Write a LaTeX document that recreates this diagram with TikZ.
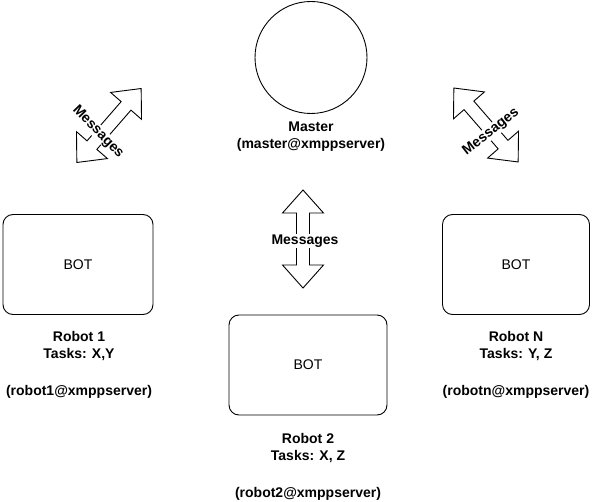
\documentclass[tikz,border=0pt]{standalone}
\usepackage{fontspec}
\setmainfont{Liberation Sans}
\begin{document}
\begin{tikzpicture}[x=1pt,y=-1pt,line width=0.9pt,
  lbl/.style={font=\fontsize{14}{17}\selectfont\bfseries, align=center, inner sep=0pt},
  botbox/.style={draw, rounded corners=10pt, font=\fontsize{14}{17}\selectfont, inner sep=0pt},
  msg/.style={font=\fontsize{14}{17}\selectfont\bfseries, fill=white, inner sep=0.5pt},
  dbl/.pic={\draw[fill=white] (-49,0) -- (-26,20.5) -- (-26,6.5) -- (26,6.5) -- (26,20.5) -- (49,0) -- (26,-20.5) -- (26,-6.5) -- (-26,-6.5) -- (-26,-20.5) -- cycle;}]
\useasboundingbox (0,0) rectangle (596,502);
% master
\node[draw, circle, minimum size=112pt, inner sep=0pt] (master) at (311,57.5) {};
\node[lbl] (mastertxt) at (311,137) {Master\\(master@xmppserver)};
% bots
\node[botbox, minimum width=150pt, minimum height=100pt] (bot1) at (78,264.5) {BOT};
\node[botbox, minimum width=158pt, minimum height=100pt] (bot2) at (308,365) {BOT};
\node[botbox, minimum width=147pt, minimum height=100pt] (botn) at (516,264.5) {BOT};
% labels
\node[lbl] (r1a) at (79,346.5) {Robot 1\\Tasks: X,Y};
\node[lbl] (r1b) at (79,392) {(robot1@xmppserver)};
\node[lbl] (r2a) at (308,448.5) {Robot 2\\Tasks: X, Z};
\node[lbl] (r2b) at (308,494) {(robot2@xmppserver)};
\node[lbl] (rna) at (516,346.5) {Robot N\\Tasks: Y, Z};
\node[lbl] (rnb) at (516,392) {(robotn@xmppserver)};
% message arrows
\pic[rotate=90] at (303,239) {dbl};
\node[msg] (m2) at (305,241) {Messages};
\pic[rotate=49] at (109,125.5) {dbl};
\node[msg, rotate=-46] (m1) at (98,132) {Messages};
\pic[rotate=-49] at (486,125) {dbl};
\node[msg, rotate=38] (mn) at (491,132) {Messages};
\end{tikzpicture}
\end{document}
